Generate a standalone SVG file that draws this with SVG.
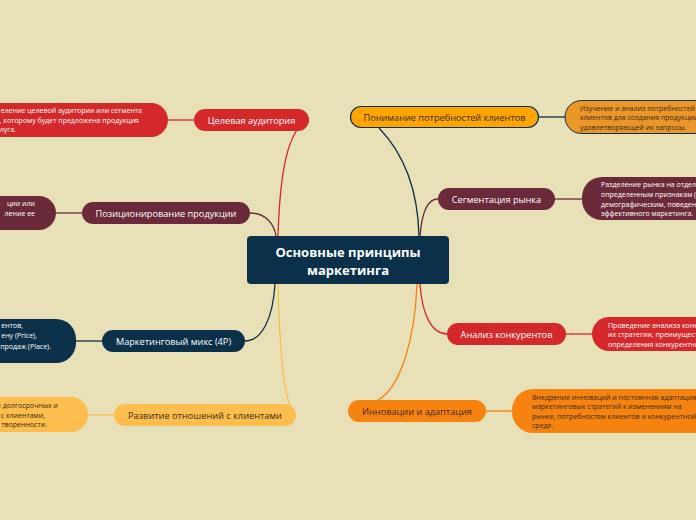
<svg xmlns="http://www.w3.org/2000/svg" width="696" height="520" viewBox="0 0 696 520">
<style>
.t{font-family:"Open Sans","Noto Sans","Liberation Sans",sans-serif;font-size:9.2px;text-anchor:middle;dominant-baseline:central}
.s{font-family:"Open Sans","Noto Sans","Liberation Sans",sans-serif;font-size:7px}
.w{fill:#ffffff}
.d{fill:#3a2a10}
.c{fill:none;stroke-width:1.3}
.red{fill:#d5282b}
.mar{fill:#6b2a3a}
.nav{fill:#0b3049}
.yel{fill:#fdbe4d}
.org{fill:#ffa500;stroke:#0b3049;stroke-width:1.2}
.org2{fill:#ea9629;stroke:#0b3049;stroke-width:1}
.or3{fill:#f6830f}
</style>
<rect width="696" height="520" fill="#e8e1b7"/>
<g id="connectors">
<path class="c" stroke="#d5282b" d="M278,236 C280,170 288,128 309,120"/>
<path class="c" stroke="#d5282b" d="M168,120 H194"/>
<path class="c" stroke="#6b2a3a" d="M250,213 C266,213 274,224 276,236"/>
<path class="c" stroke="#6b2a3a" d="M56,213 H82"/>
<path class="c" stroke="#0b3049" d="M275,284 C273,318 262,341 245,341"/>
<path class="c" stroke="#0b3049" d="M76,341 H102"/>
<path class="c" stroke="#fdbe4d" d="M278,284 C279,330 282,380 289,404"/>
<path class="c" stroke="#fdbe4d" d="M88,415 H114"/>
<path class="c" stroke="#0b3049" d="M379,128 C408,158 418,195 419,236"/>
<path class="c" stroke="#0b3049" d="M539,117 H565"/>
<path class="c" stroke="#6b2a3a" d="M420,236 C422,210 428,199 438,199"/>
<path class="c" stroke="#6b2a3a" d="M555,199 H582"/>
<path class="c" stroke="#d5282b" d="M420,284 C422,315 432,334 447,334"/>
<path class="c" stroke="#d5282b" d="M566,334 H592"/>
<path class="c" stroke="#f6830f" d="M417,284 C415,340 400,388 378,400"/>
<path class="c" stroke="#f6830f" d="M486,411 H512"/>
</g>
<g id="center">
<rect x="247" y="236" width="202" height="48" rx="4" fill="#0b3049"/>
<text x="348" y="252" font-family="'Open Sans','Noto Sans','Liberation Sans',sans-serif" font-size="13" font-weight="bold" fill="#fff" text-anchor="middle" dominant-baseline="central">Основные принципы</text>
<text x="348" y="270" font-family="'Open Sans','Noto Sans','Liberation Sans',sans-serif" font-size="13" font-weight="bold" fill="#fff" text-anchor="middle" dominant-baseline="central">маркетинга</text>
</g>
<g id="n-audience">
<rect class="red" x="194" y="109" width="115" height="22" rx="11"/>
<text class="t w" x="251.5" y="120">Целевая аудитория</text>
</g>
<g id="n-audience-d">
<rect class="red" x="-40" y="103" width="208" height="34" rx="17"/>
<text class="s w" text-anchor="end"><tspan x="142" y="113">еление целевой аудитории или сегмента</tspan><tspan x="139" y="122.5">, которому будет предложена продукция</tspan><tspan x="16" y="132">луга.</tspan></text>
</g>
<g id="n-position">
<rect class="mar" x="82" y="202" width="168" height="22" rx="11"/>
<text class="t w" x="166" y="213">Позиционирование продукции</text>
</g>
<g id="n-position-d">
<rect class="mar" x="-40" y="196" width="96" height="34" rx="17"/>
<text class="s w" text-anchor="end"><tspan x="35" y="206">ции или</tspan><tspan x="35" y="216">ление ее</tspan></text>
</g>
<g id="n-mix">
<rect class="nav" x="102" y="330" width="143" height="22" rx="11"/>
<text class="t w" x="173.5" y="341">Маркетинговый микс (4P)</text>
</g>
<g id="n-mix-d">
<rect class="nav" x="-40" y="319" width="116" height="44" rx="20"/>
<text class="s w" text-anchor="end"><tspan x="23" y="328">ентов,</tspan><tspan x="37" y="338">ену (Price),</tspan><tspan x="51" y="349">продаж (Place).</tspan></text>
</g>
<g id="n-relations">
<rect class="yel" x="114" y="404" width="182" height="22" rx="11"/>
<text class="t d" x="205" y="415">Развитие отношений с клиентами</text>
</g>
<g id="n-relations-d">
<rect class="yel" x="-40" y="397" width="128" height="35" rx="17"/>
<text class="s d" text-anchor="end"><tspan x="58" y="408">е долгосрочных и</tspan><tspan x="45" y="417.5">с клиентами,</tspan><tspan x="47" y="427">творенности.</tspan></text>
</g>
<g id="n-needs">
<rect class="org" x="350.5" y="106.5" width="188" height="21" rx="10.5"/>
<text class="t d" x="444.5" y="117">Понимание потребностей клиентов</text>
</g>
<g id="n-needs-d">
<rect class="org2" x="565" y="100.5" width="170" height="33" rx="16.5"/>
<text class="s d"><tspan x="580" y="110.5">Изучение и анализ потребностей</tspan><tspan x="580" y="120">клиентов для создания продукции,</tspan><tspan x="580" y="130">удовлетворяющей их запросы.</tspan></text>
</g>
<g id="n-segment">
<rect class="mar" x="438" y="188" width="117" height="22" rx="11"/>
<text class="t w" x="496.5" y="199">Сегментация рынка</text>
</g>
<g id="n-segment-d">
<rect class="mar" x="582" y="177" width="160" height="43" rx="20"/>
<text class="s w"><tspan x="601" y="187">Разделение рынка на отдельные</tspan><tspan x="601" y="197">определенным признакам (</tspan><tspan x="601" y="206.5">демографическим, поведенческим</tspan><tspan x="601" y="216">эффективного маркетинга.</tspan></text>
</g>
<g id="n-compet">
<rect class="red" x="447" y="323" width="119" height="22" rx="11"/>
<text class="t w" x="506.5" y="334">Анализ конкурентов</text>
</g>
<g id="n-compet-d">
<rect class="red" x="592" y="317" width="150" height="34" rx="17"/>
<text class="s w"><tspan x="608" y="327.5">Проведение анализа конкурентов,</tspan><tspan x="608" y="337">их стратегии, преимуществ</tspan><tspan x="608" y="346.5">определения конкурентных</tspan></text>
</g>
<g id="n-innov">
<rect class="or3" x="348" y="400" width="138" height="22" rx="11"/>
<text class="t d" x="417" y="411">Инновации и адаптация</text>
</g>
<g id="n-innov-d">
<rect class="or3" x="512" y="389" width="230" height="44" rx="21"/>
<text class="s d"><tspan x="532" y="399.5">Внедрение инноваций и постоянная адаптация</tspan><tspan x="532" y="409">маркетинговых стратегий к изменениям на</tspan><tspan x="532" y="418.5">рынке, потребностям клиентов и конкурентной</tspan><tspan x="532" y="428">среде.</tspan></text>
</g>
</svg>
